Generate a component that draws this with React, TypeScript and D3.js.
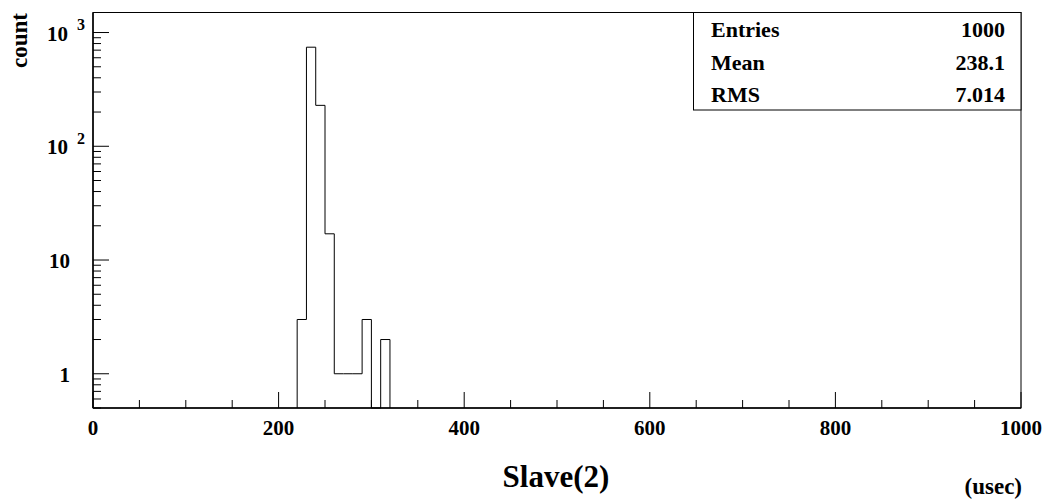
import React from "react";
import * as d3 from "d3";

// ---- data ----
const binWidth = 10;
const binLows = [220, 230, 240, 250, 260, 270, 280, 290, 300, 310];
const binCounts = [3, 743, 229, 17, 1, 1, 1, 3, 0, 2];
const xTickValues = [0, 200, 400, 600, 800, 1000];
const yMajorTicks = [1, 10, 100, 1000];
const yMajorLabels = [
  { base: "1", exp: "" },
  { base: "10", exp: "" },
  { base: "10", exp: "2" },
  { base: "10", exp: "3" },
];
const statsNames = ["Entries", "Mean", "RMS"];
const statsValues = ["1000", "238.1", "7.014"];
const xTitle = "Slave(2)";
const xUnit = "(usec)";
const yTitle = "count";

const W = 1053;
const H = 502;
const frame = { left: 93, right: 1021, top: 12.5, bottom: 408 };
const FONT = "'Liberation Serif', 'Times New Roman', serif";

export default function App() {
  const x = d3.scaleLinear().domain([0, 1000]).range([frame.left, frame.right]);
  const y = d3.scaleLog().domain([0.5, 1500]).range([frame.bottom, frame.top]);

  // histogram outline
  const pts: [number, number][] = [];
  const yMin = 0.5;
  pts.push([binLows[0], yMin]);
  binLows.forEach((lo, i) => {
    const v = binCounts[i] > 0 ? binCounts[i] : yMin;
    pts.push([lo, v]);
    pts.push([lo + binWidth, v]);
  });
  pts.push([binLows[binLows.length - 1] + binWidth, yMin]);
  const line = d3
    .line<[number, number]>()
    .x((d) => x(d[0]))
    .y((d) => y(d[1]));
  const histPath = line(pts) || "";

  // x ticks every 50
  const xMinor = d3.range(0, 1001, 50);
  // y minor ticks
  const yMinor: number[] = [];
  [0.1, 1, 10, 100].forEach((dec) => {
    for (let k = 2; k <= 9; k++) {
      const v = dec * k;
      if (v >= 0.5 && v <= 1500) yMinor.push(v);
    }
  });

  return (
    <svg
      width={W}
      height={H}
      style={{ position: "absolute", left: 0, top: 0, background: "#fff" }}
      fontFamily={FONT}
      fontWeight="bold"
    >
      <rect x={0} y={0} width={W} height={H} fill="#fff" />
      {/* histogram */}
      <path d={histPath} fill="none" stroke="#000" strokeWidth={1} />
      {/* frame */}
      <rect
        x={frame.left}
        y={frame.top}
        width={frame.right - frame.left}
        height={frame.bottom - frame.top}
        fill="none"
        stroke="#000"
        strokeWidth={1}
      />
      <line x1={frame.left} x2={frame.right} y1={frame.bottom} y2={frame.bottom} stroke="#000" strokeWidth={1.5} />
      <line x1={frame.left} x2={frame.left} y1={frame.top} y2={frame.bottom} stroke="#000" strokeWidth={1.5} />
      {/* x ticks */}
      {xMinor.map((v) => {
        const major = v % 200 === 0;
        const len = major ? 16 : 8;
        return (
          <line key={"xt" + v} x1={x(v)} x2={x(v)} y1={frame.bottom} y2={frame.bottom - len} stroke="#000" strokeWidth={1} />
        );
      })}
      {xTickValues.map((v) => (
        <text key={"xl" + v} x={x(v)} y={435} textAnchor="middle" fontSize={21}>
          {v}
        </text>
      ))}
      {/* y ticks */}
      {yMajorTicks.map((v) => (
        <line key={"ymj" + v} x1={frame.left} x2={frame.left + 16} y1={y(v)} y2={y(v)} stroke="#000" strokeWidth={1} />
      ))}
      {yMinor.map((v) => (
        <line key={"ymn" + v} x1={frame.left} x2={frame.left + 8} y1={y(v)} y2={y(v)} stroke="#000" strokeWidth={1} />
      ))}
      {yMajorTicks.map((v, i) => {
        const lab = yMajorLabels[i];
        if (!lab.exp) {
          return (
            <text key={"yl" + v} x={70} y={y(v) + 8} textAnchor="end" fontSize={21}>
              {lab.base}
            </text>
          );
        }
        return (
          <g key={"yl" + v}>
            <text x={68} y={y(v) + 8} textAnchor="end" fontSize={21}>
              {lab.base}
            </text>
            <text x={77} y={y(v) - 2.5} textAnchor="start" fontSize={16}>
              {lab.exp}
            </text>
          </g>
        );
      })}
      {/* axis titles */}
      <text x={556} y={487} textAnchor="middle" fontSize={31}>
        {xTitle}
      </text>
      <text x={1022} y={494} textAnchor="end" fontSize={23}>
        {xUnit}
      </text>
      <text transform="translate(26.5,13) rotate(-90)" textAnchor="end" fontSize={23}>
        {yTitle}
      </text>
      {/* stats box */}
      <rect x={693.5} y={12.5} width={1021 - 693.5} height={97.5} fill="#fff" stroke="#000" strokeWidth={1} />
      {statsNames.map((n, i) => (
        <g key={"st" + n}>
          <text x={711} y={37 + i * 32.5} fontSize={22}>
            {n}
          </text>
          <text x={1005} y={37 + i * 32.5} textAnchor="end" fontSize={22}>
            {statsValues[i]}
          </text>
        </g>
      ))}
    </svg>
  );
}
